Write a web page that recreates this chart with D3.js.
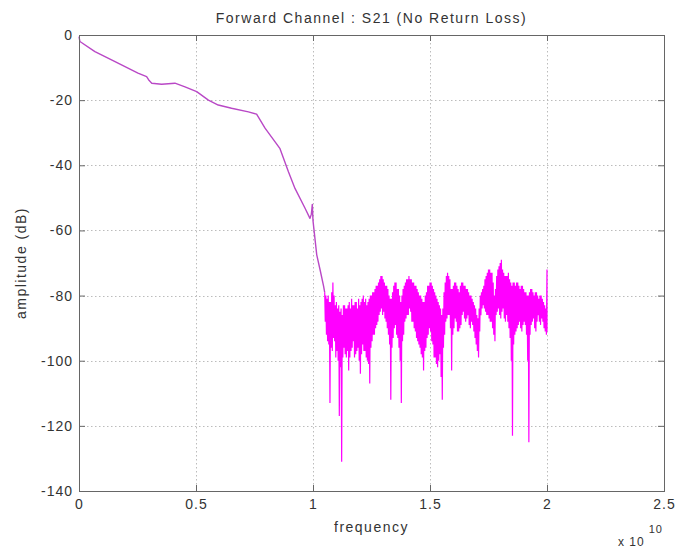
<!DOCTYPE html>
<html>
<head>
<meta charset="utf-8">
<script src="https://cdn.jsdelivr.net/npm/d3@7"></script>
<style>
  html, body { margin: 0; padding: 0; background: #fff; }
  svg { display: block; }
  text { font-family: "Liberation Sans", Arial, sans-serif; fill: #333; }
</style>
</head>
<body>
<svg id="chart" width="678" height="551"></svg>
<script>
// Tick values and labels
const xTicks = [0, 0.5, 1, 1.5, 2, 2.5];
const xTickLabels = ["0", "0.5", "1", "1.5", "2", "2.5"];
const yTicks = [-140, -120, -100, -80, -60, -40, -20, 0];
const yTickLabels = ["-140", "-120", "-100", "-80", "-60", "-40", "-20", "0"];

// Pass-band roll-off (frequency in units of 1e10 Hz, amplitude in dB)
const passFreq = [0, 0.004, 0.068, 0.154, 0.252, 0.289, 0.300, 0.311, 0.353, 0.410,
  0.453, 0.503, 0.553, 0.595, 0.652, 0.724, 0.759, 0.795, 0.838, 0.859,
  0.895, 0.923, 0.966, 0.987, 0.993, 0.997, 1.000, 1.003, 1.016, 1.030, 1.045, 1.050];
const passDb = [-0.5, -2.0, -5.1, -8.2, -11.7, -12.8, -14.0, -14.8, -15.1, -14.8,
  -15.9, -17.4, -20.0, -21.5, -22.5, -23.6, -24.3, -28.6, -32.8, -34.9,
  -42.0, -47.1, -53.2, -56.3, -55.0, -52.0, -57.0, -59.0, -67.5, -72.0, -77.0, -79.0];

// Stop-band floor, sampled every 0.0025e10 Hz from 1.05e10 Hz
// (each row: ripple maxima and minima over 0.025e10 Hz)
const stopStart = 1.05;
const stopStep = 0.0025;
const stopDb = [
  -79, -88, -80, -92, -81, -94, -80, -95, -82, -113,
  -82, -96, -79, -97, -76, -93, -80, -94, -83, -99,
  -82, -97, -84, -100, -83, -117, -85, -102, -84, -131,
  -86, -99, -83, -96, -83, -98, -84, -99, -84, -97,
  -83, -103, -82, -99, -84, -97, -81, -96, -83, -94,
  -83, -99, -82, -98, -82, -97, -84, -96, -81, -100,
  -83, -104, -82, -98, -81, -95, -80, -97, -82, -97,
  -81, -99, -83, -100, -82, -101, -81, -107, -80, -96,
  -80, -94, -79, -92, -79, -92, -78, -90, -77, -89,
  -77, -88, -76, -86, -75, -85, -74, -84, -74, -86,
  -75, -85, -76, -87, -77, -88, -77, -90, -78, -92,
  -80, -95, -81, -112, -81, -96, -79, -93, -77, -90,
  -76, -89, -76, -92, -78, -93, -78, -96, -80, -100,
  -82, -113, -80, -94, -78, -92, -77, -88, -76, -87,
  -75, -86, -75, -86, -74, -84, -75, -85, -75, -88,
  -76, -88, -76, -90, -77, -91, -77, -93, -78, -94,
  -79, -95, -80, -96, -80, -98, -81, -99, -82, -103,
  -82, -97, -80, -96, -79, -93, -77, -92, -77, -90,
  -76, -91, -76, -94, -77, -95, -78, -99, -79, -99,
  -80, -101, -81, -102, -82, -100, -83, -98, -84, -105,
  -86, -112, -84, -96, -79, -92, -76, -88, -74, -87,
  -73, -86, -74, -86, -75, -90, -78, -103, -78, -92,
  -77, -90, -76, -87, -76, -88, -77, -91, -78, -91,
  -79, -90, -77, -89, -76, -86, -76, -85, -77, -87,
  -77, -88, -78, -87, -78, -86, -79, -89, -80, -90,
  -80, -88, -81, -89, -82, -91, -83, -93, -84, -95,
  -86, -97, -87, -99, -84, -91, -80, -86, -79, -84,
  -78, -83, -77, -84, -75, -85, -74, -86, -73, -86,
  -72, -87, -72, -88, -73, -88, -73, -90, -76, -92,
  -80, -94, -78, -86, -74, -85, -72, -84, -71, -86,
  -70, -87, -69, -85, -72, -84, -73, -87, -74, -88,
  -74, -86, -74, -88, -73, -90, -75, -93, -76, -100,
  -77, -123, -76, -95, -76, -92, -77, -91, -76, -90,
  -76, -89, -77, -88, -78, -90, -77, -91, -77, -89,
  -78, -88, -79, -89, -79, -92, -80, -100, -80, -125,
  -79, -92, -78, -89, -78, -88, -79, -87, -80, -90,
  -79, -91, -79, -88, -80, -86, -81, -88, -80, -89,
  -80, -87, -81, -88, -82, -90, -83, -91, -84, -92,
  -72
];
// Final sample at the band edge
const edgeFreq = [2.0];
const edgeDb = [-91];

const svg = d3.select("#chart");
const plotLeft = 79, plotRight = 664, plotTop = 35, plotBottom = 491;

const x = d3.scaleLinear().domain([0, 2.5]).range([plotLeft, plotRight]);
const y = d3.scaleLinear().domain([-140, 0]).range([plotBottom, plotTop]);

// Dotted grid
const grid = svg.append("g").attr("stroke", "#bcbcbc").attr("stroke-width", 1)
  .attr("stroke-dasharray", "1.5,2.5").attr("fill", "none");
grid.selectAll(".gx").data(xTicks.slice(1, -1)).join("line")
  .attr("x1", d => Math.round(x(d)) + 0.5).attr("x2", d => Math.round(x(d)) + 0.5)
  .attr("y1", plotTop).attr("y2", plotBottom);
grid.selectAll(".gy").data(yTicks.slice(1, -1)).join("line")
  .attr("y1", d => Math.round(y(d)) + 0.5).attr("y2", d => Math.round(y(d)) + 0.5)
  .attr("x1", plotLeft).attr("x2", plotRight);

// Series
const pts = passFreq.map((f, i) => [f, passDb[i]]);
const stopPts = stopDb.map((v, i) => [stopStart + i * stopStep, v])
  .concat(edgeFreq.map((f, i) => [f, edgeDb[i]]));
const line = d3.line().x(d => x(d[0])).y(d => y(d[1]));

svg.append("path").datum(pts)
  .attr("fill", "none").attr("stroke", "#b948c6").attr("stroke-width", 1.4)
  .attr("stroke-linejoin", "round").attr("d", line);
svg.append("path").datum([pts[pts.length - 1]].concat(stopPts))
  .attr("fill", "none").attr("stroke", "#ff00ff").attr("stroke-width", 1.2)
  .attr("stroke-linejoin", "bevel").attr("d", line);

// Axes with inward ticks
const fmtX = (d, i) => xTickLabels[i];
const fmtY = (d, i) => yTickLabels[i];
const axB = svg.append("g").attr("transform", `translate(0,${plotBottom})`)
  .call(d3.axisBottom(x).tickValues(xTicks).tickFormat(fmtX).tickSize(-6).tickPadding(8));
const axL = svg.append("g").attr("transform", `translate(${plotLeft},0)`)
  .call(d3.axisLeft(y).tickValues(yTicks).tickFormat(fmtY).tickSize(-6).tickPadding(6));
const axT = svg.append("g").attr("transform", `translate(0,${plotTop})`)
  .call(d3.axisTop(x).tickValues(xTicks).tickFormat("").tickSize(-6));
const axR = svg.append("g").attr("transform", `translate(${plotRight},0)`)
  .call(d3.axisRight(y).tickValues(yTicks).tickFormat("").tickSize(-6));
[axB, axL, axT, axR].forEach(a => {
  a.select(".domain").remove();
  a.selectAll("line").attr("stroke", "#666");
  a.selectAll("text").attr("font-size", 14).attr("fill", "#555")
    .attr("font-family", "'Liberation Sans', Arial, sans-serif")
    .style("letter-spacing", "1px");
});

// Frame
svg.append("rect").attr("x", plotLeft + 0.5).attr("y", plotTop + 0.5)
  .attr("width", plotRight - plotLeft).attr("height", plotBottom - plotTop)
  .attr("fill", "none").attr("stroke", "#666").attr("stroke-width", 1);

// Titles
svg.append("text").attr("x", (plotLeft + plotRight) / 2).attr("y", 23)
  .attr("text-anchor", "middle").attr("font-size", 14).attr("fill", "#555")
  .style("letter-spacing", "1.5px")
  .text("Forward Channel : S21 (No Return Loss)");
svg.append("text").attr("x", (plotLeft + plotRight) / 2).attr("y", 532)
  .attr("text-anchor", "middle").attr("font-size", 14).attr("fill", "#555")
  .style("letter-spacing", "1.5px")
  .text("frequency");
svg.append("text").attr("transform", `translate(26,${(plotTop + plotBottom) / 2}) rotate(-90)`)
  .attr("text-anchor", "middle").attr("font-size", 14).attr("fill", "#555")
  .style("letter-spacing", "1.5px")
  .text("amplitude (dB)");
const mult = svg.append("text").attr("x", 618).attr("y", 546).attr("font-size", 12)
  .attr("fill", "#555").style("letter-spacing", "1px");
mult.append("tspan").text("x 10");
mult.append("tspan").attr("dx", 4).attr("dy", -13).attr("font-size", 11).text("10");
</script>
</body>
</html>
